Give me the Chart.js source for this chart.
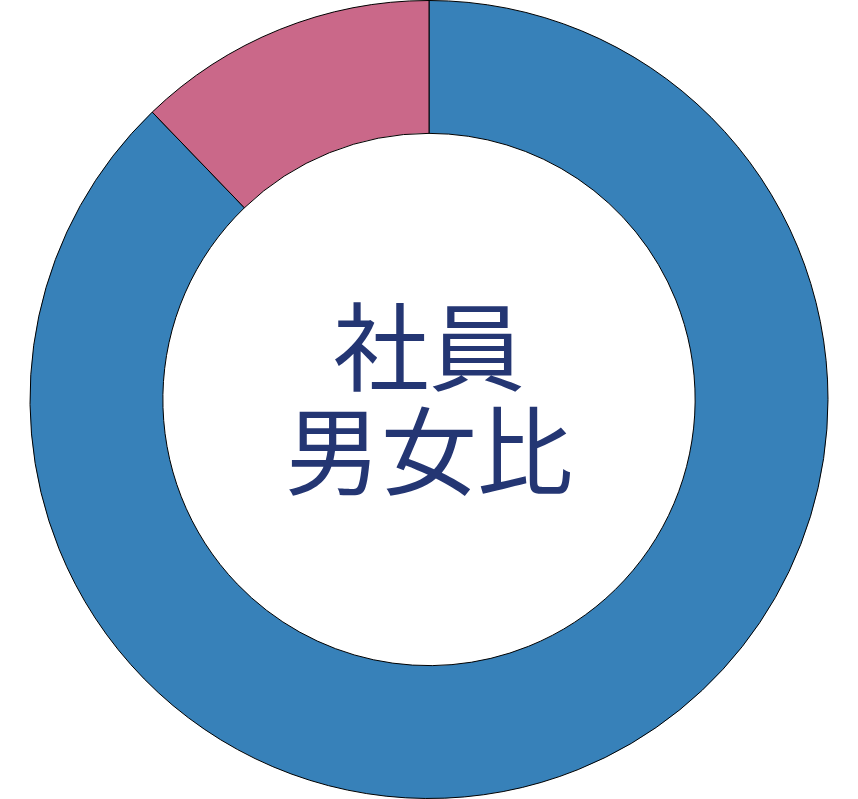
<!DOCTYPE html>
<html>
<head>
<meta charset="utf-8">
<script src="https://cdn.jsdelivr.net/npm/chart.js@4"></script>
<style>
  html, body { margin: 0; padding: 0; background: #fff; }
  #wrap { width: 858px; height: 799px; }
</style>
</head>
<body>
<div id="wrap"><canvas id="grafico"></canvas></div>
<script>
const categorias = ['男性', '女性'];
const porcentajes = [87.8, 12.2];
const colores = ['#3781b9', '#ca6889'];
const textoCentro = ['社員', '男女比'];

const textoCentral = {
  id: 'textoCentral',
  afterDraw(chart) {
    const meta = chart.getDatasetMeta(0).data[0];
    const ctx = chart.ctx;
    ctx.save();
    ctx.fillStyle = '#243673';
    ctx.font = '96px "Noto Sans CJK JP"';
    ctx.textAlign = 'center';
    ctx.textBaseline = 'middle';
    ctx.fillText(textoCentro[0], meta.x, meta.y - 53);
    ctx.fillText(textoCentro[1], meta.x, meta.y + 51);
    ctx.restore();
  }
};

new Chart(document.getElementById('grafico'), {
  type: 'doughnut',
  data: {
    labels: categorias,
    datasets: [{
      data: porcentajes,
      backgroundColor: colores,
      borderColor: '#000',
      borderWidth: 1
    }]
  },
  options: {
    responsive: true,
    maintainAspectRatio: false,
    animation: false,
    cutout: '66.7%',
    layout: { padding: 0 },
    plugins: { legend: { display: false }, tooltip: { enabled: false } }
  },
  plugins: [textoCentral]
});
</script>
</body>
</html>
